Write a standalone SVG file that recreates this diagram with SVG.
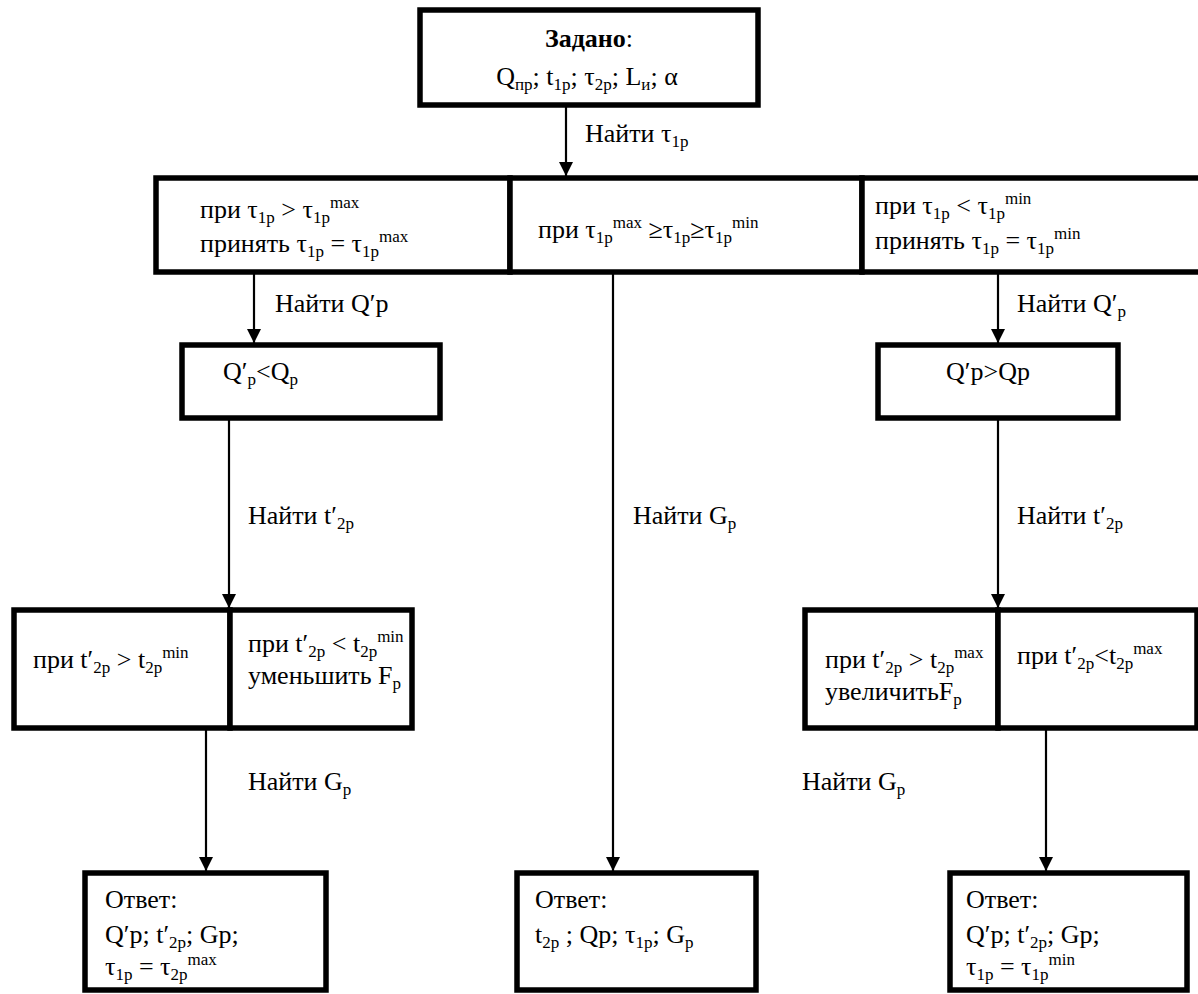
<svg xmlns="http://www.w3.org/2000/svg" width="1198" height="994" viewBox="0 0 1198 994">
<style>
.box{fill:#fff;stroke:#000;stroke-width:5.5}
.t{font-family:"Liberation Serif","DejaVu Serif",serif;font-size:26px;fill:#000}
.s{font-size:17px}
.c line{stroke:#000;stroke-width:2.2;marker-end:url(#ah)}
</style>
<defs>
<marker id="ah" markerUnits="userSpaceOnUse" markerWidth="14" markerHeight="14" refX="14" refY="7" orient="auto" viewBox="0 0 14 14">
<path d="M0,0 L14,7 L0,14 z" fill="#000"/>
</marker>
</defs>
<rect width="1198" height="994" fill="#fff"/>

<g class="c" id="connectors">
<line x1="566" y1="107" x2="566" y2="176"/>
<line x1="254" y1="274" x2="254" y2="343"/>
<line x1="998" y1="274" x2="998" y2="343"/>
<line x1="229" y1="420" x2="229" y2="608"/>
<line x1="998" y1="420" x2="998" y2="608"/>
<line x1="613" y1="274" x2="613" y2="871"/>
<line x1="206" y1="730" x2="206" y2="871"/>
<line x1="1046" y1="730" x2="1046" y2="871"/>
</g>

<g id="labels">
<text class="t" x="585" y="142">Найти τ<tspan class="s" dy="5">1р</tspan></text>
<text class="t" x="275" y="312">Найти Q′р</text>
<text class="t" x="1017" y="312">Найти Q′<tspan class="s" dy="5">р</tspan></text>
<text class="t" x="248" y="524">Найти t′<tspan class="s" dy="5">2р</tspan></text>
<text class="t" x="633" y="524">Найти G<tspan class="s" dy="5">р</tspan></text>
<text class="t" x="1017" y="524">Найти t′<tspan class="s" dy="5">2р</tspan></text>
<text class="t" x="248" y="790">Найти G<tspan class="s" dy="5">р</tspan></text>
<text class="t" x="802" y="790">Найти G<tspan class="s" dy="5">р</tspan></text>
</g>

<g id="n-given">
<rect class="box" x="420" y="10" width="338" height="95"/>
<text class="t" x="589" y="47" text-anchor="middle"><tspan font-weight="bold">Задано</tspan>:</text>
<text class="t" x="587" y="85" text-anchor="middle">Q<tspan class="s" dy="5">пр</tspan><tspan dy="-5">; t</tspan><tspan class="s" dy="5">1р</tspan><tspan dy="-5">; τ</tspan><tspan class="s" dy="5">2р</tspan><tspan dy="-5">; L</tspan><tspan class="s" dy="5">и</tspan><tspan dy="-5">; α</tspan></text>
</g>

<g id="n-max">
<rect class="box" x="156" y="178" width="354" height="94"/>
<text class="t" x="200" y="218">при τ<tspan class="s" dy="5">1р</tspan><tspan dy="-5"> &gt; τ</tspan><tspan class="s" dy="5">1р</tspan><tspan class="s" dy="-15">max</tspan></text>
<text class="t" x="200" y="252">принять τ<tspan class="s" dy="5">1р</tspan><tspan dy="-5"> = τ</tspan><tspan class="s" dy="5">1р</tspan><tspan class="s" dy="-15">max</tspan></text>
</g>

<g id="n-mid">
<rect class="box" x="510" y="178" width="352" height="94"/>
<text class="t" x="538" y="238">при τ<tspan class="s" dy="5">1р</tspan><tspan class="s" dy="-15">max</tspan><tspan dy="10"> ≥τ</tspan><tspan class="s" dy="5">1р</tspan><tspan dy="-5">≥τ</tspan><tspan class="s" dy="5">1р</tspan><tspan class="s" dy="-15">min</tspan></text>
</g>

<g id="n-min">
<rect class="box" x="862" y="178" width="340" height="94"/>
<text class="t" x="875" y="214">при τ<tspan class="s" dy="5">1р</tspan><tspan dy="-5"> &lt; τ</tspan><tspan class="s" dy="5">1р</tspan><tspan class="s" dy="-15">min</tspan></text>
<text class="t" x="875" y="249">принять τ<tspan class="s" dy="5">1р</tspan><tspan dy="-5"> = τ</tspan><tspan class="s" dy="5">1р</tspan><tspan class="s" dy="-15">min</tspan></text>
</g>

<g id="n-qless">
<rect class="box" x="182" y="345" width="258" height="73"/>
<text class="t" x="223" y="380">Q′<tspan class="s" dy="5">р</tspan><tspan dy="-5">&lt;Q</tspan><tspan class="s" dy="5">р</tspan></text>
</g>

<g id="n-qmore">
<rect class="box" x="878" y="345" width="240" height="73"/>
<text class="t" x="946" y="380">Q′р&gt;Qр</text>
</g>

<g id="n-l-gt">
<rect class="box" x="14" y="610" width="216" height="118"/>
<text class="t" x="33" y="668">при t′<tspan class="s" dy="5">2р</tspan><tspan dy="-5"> &gt; t</tspan><tspan class="s" dy="5">2р</tspan><tspan class="s" dy="-15">min</tspan></text>
</g>

<g id="n-l-lt">
<rect class="box" x="230" y="610" width="182" height="118"/>
<text class="t" x="248" y="652">при t′<tspan class="s" dy="5">2р</tspan><tspan dy="-5"> &lt; t</tspan><tspan class="s" dy="5">2р</tspan><tspan class="s" dy="-15">min</tspan></text>
<text class="t" x="248" y="684">уменьшить F<tspan class="s" dy="5">р</tspan></text>
</g>

<g id="n-r-gt">
<rect class="box" x="805" y="610" width="193" height="118"/>
<text class="t" x="825" y="668">при t′<tspan class="s" dy="5">2р</tspan><tspan dy="-5"> &gt; t</tspan><tspan class="s" dy="5">2р</tspan><tspan class="s" dy="-15">max</tspan></text>
<text class="t" x="825" y="700">увеличитьF<tspan class="s" dy="5">р</tspan></text>
</g>

<g id="n-r-lt">
<rect class="box" x="998" y="610" width="199" height="118"/>
<text class="t" x="1017" y="664">при t′<tspan class="s" dy="5">2р</tspan><tspan dy="-5">&lt;t</tspan><tspan class="s" dy="5">2р</tspan><tspan class="s" dy="-15">max</tspan></text>
</g>

<g id="n-ans-left">
<rect class="box" x="85" y="873" width="241" height="117"/>
<text class="t" x="105" y="908">Ответ:</text>
<text class="t" x="105" y="943">Q′р; t′<tspan class="s" dy="5">2р</tspan><tspan dy="-5">; Gр;</tspan></text>
<text class="t" x="105" y="975">τ<tspan class="s" dy="5">1р</tspan><tspan dy="-5"> = τ</tspan><tspan class="s" dy="5">2р</tspan><tspan class="s" dy="-15">max</tspan></text>
</g>

<g id="n-ans-mid">
<rect class="box" x="517" y="873" width="239" height="117"/>
<text class="t" x="535" y="908">Ответ:</text>
<text class="t" x="535" y="943">t<tspan class="s" dy="5">2р</tspan><tspan dy="-5"> ; Qр; τ</tspan><tspan class="s" dy="5">1р</tspan><tspan dy="-5">; G</tspan><tspan class="s" dy="5">р</tspan></text>
</g>

<g id="n-ans-right">
<rect class="box" x="950" y="873" width="237" height="117"/>
<text class="t" x="966" y="908">Ответ:</text>
<text class="t" x="966" y="943">Q′р; t′<tspan class="s" dy="5">2р</tspan><tspan dy="-5">; Gр;</tspan></text>
<text class="t" x="966" y="975">τ<tspan class="s" dy="5">1р</tspan><tspan dy="-5"> = τ</tspan><tspan class="s" dy="5">1р</tspan><tspan class="s" dy="-15">min</tspan></text>
</g>
</svg>
